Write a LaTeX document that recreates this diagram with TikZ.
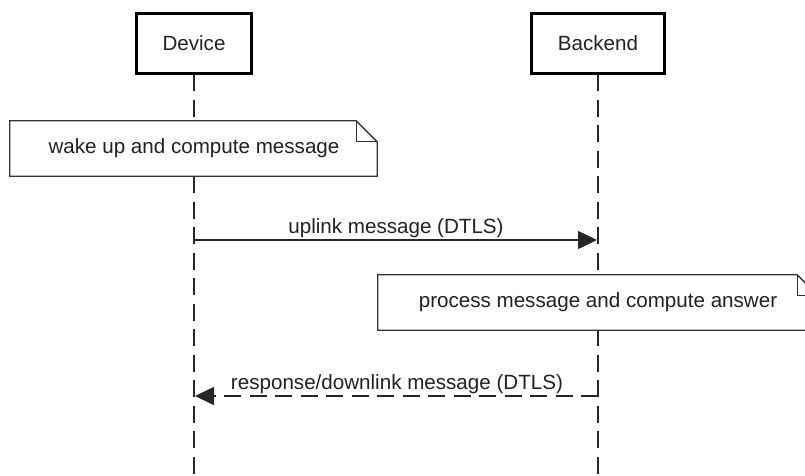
\documentclass[tikz,border=0pt]{standalone}
\usepackage{fontspec}
\setmainfont{Liberation Sans}
\usetikzlibrary{arrows.meta}
\definecolor{txt}{HTML}{222222}
\tikzset{
  actorbox/.style={draw=black, line width=3pt, fill=white, minimum height=60pt, inner sep=0pt, text=txt},
  lifeline/.style={draw=black!85, line width=1.5pt, dash pattern=on 17pt off 8.5pt},
  notebox/.style={minimum height=55pt, inner sep=0pt, text=txt},
  noteline/.style={draw=black!80, line width=1.3pt, fill=white, line join=miter},
  msg/.style={draw=black!85, line width=1.5pt},
  msglabel/.style={text=txt, anchor=base, inner sep=0pt},
  tipstyle/.style={-{Triangle[length=19pt,width=18pt]}}
}
\begin{document}
\begin{tikzpicture}[x=1pt,y=-1pt,font=\fontsize{20.6}{24}\selectfont]
\useasboundingbox (0,0) rectangle (805,475);
\fill[white] (0,0) rectangle (805,475);
% lifelines
\coordinate (devEnd) at (194,478);
\coordinate (backEnd) at (598,478);
\coordinate (devTop) at (194,74);
\coordinate (backTop) at (598,74);
\draw[lifeline] (devTop) -- (devEnd);
\draw[lifeline] (backTop) -- (backEnd);
% actors
\node[actorbox, minimum width=115pt] (device) at (194,43.5) {Device};
\node[actorbox, minimum width=133pt] (backend) at (598,43.5) {Backend};
% note 1
\node[notebox, minimum width=367pt] (n1) at (193.5,148.5) {};
\draw[noteline] (n1.north west) -- ([xshift=-21pt]n1.north east) -- ([yshift=-21pt]n1.north east) -- (n1.south east) -- (n1.south west) -- cycle;
\draw[noteline, fill=none] ([xshift=-21pt]n1.north east) -- ([xshift=-21pt,yshift=-21pt]n1.north east) -- ([yshift=-21pt]n1.north east);
\node[text=txt, inner sep=0pt] (n1t) at (194,148.5) {wake up and compute message};
% uplink
\coordinate (u1) at (194,240);
\coordinate (u2) at (597,240);
\draw[msg, tipstyle] (u1) -- (u2);
\node[msglabel] (l1) at (396,233) {uplink message (DTLS)};
% note 2
\node[notebox, minimum width=440pt] (n2) at (598,302.5) {};
\draw[noteline] (n2.north west) -- ([xshift=-21pt]n2.north east) -- ([yshift=-21pt]n2.north east) -- (n2.south east) -- (n2.south west) -- cycle;
\draw[noteline, fill=none] ([xshift=-21pt]n2.north east) -- ([xshift=-21pt,yshift=-21pt]n2.north east) -- ([yshift=-21pt]n2.north east);
\node[text=txt, inner sep=0pt] (n2t) at (598,302.5) {process message and compute answer};
% response
\coordinate (r1) at (598,396);
\coordinate (r2) at (195,396);
\draw[msg, dash pattern=on 17pt off 8.5pt, tipstyle] (r1) -- (r2);
\node[msglabel] (l2) at (397,389) {response/downlink message (DTLS)};
\end{tikzpicture}
\end{document}
